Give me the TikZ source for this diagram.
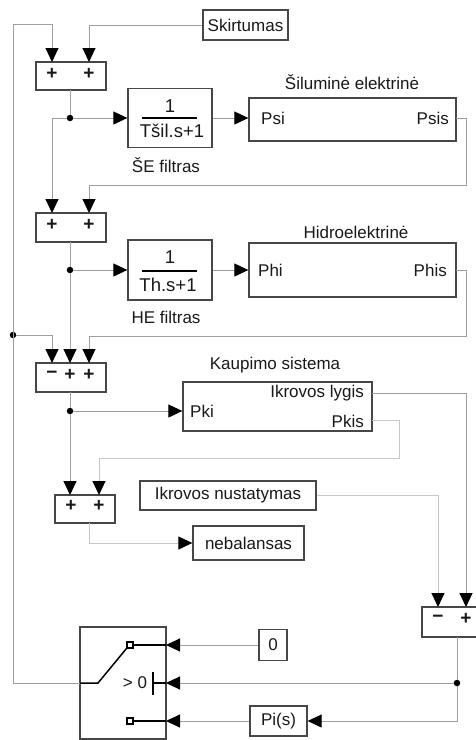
\documentclass[tikz,border=0pt]{standalone}
\usepackage{fontspec}
\setmainfont{Liberation Sans}
\usetikzlibrary{arrows.meta,calc}
\begin{document}
\begin{tikzpicture}[x=1pt,y=-1pt,
  every node/.style={font=\fontsize{17}{20}\selectfont,text=black!90},
  blk/.style={draw=black!72,line width=1.3pt,fill=white,inner sep=0pt},
  wire/.style={draw=black!38,line width=1pt},
  lwire/.style={draw=black!22,line width=1pt},
  tip/.style={-{Triangle[length=14pt,width=13pt,color=black]}},
  arr/.style={wire,tip},
  larr/.style={lwire,tip},
  dot/.style={circle,fill=black,inner sep=0pt,minimum size=6.5pt},
  sgn/.style={font=\fontsize{19}{20}\selectfont\bfseries,inner sep=0pt},
  tff/.style={font=\fontsize{18.5}{20}\selectfont},
  swl/.style={draw=black,line width=1.5pt},
  sq/.style={draw=black,fill=white,line width=1.2pt,minimum size=6pt,inner sep=0pt},
  frac/.style={draw=black,line width=1.3pt}]
\useasboundingbox (0,0) rectangle (475,740);

% blocks
\node[blk,minimum width=85,minimum height=30] (skirt) at (245.5,25) {Skirtumas};
\node[blk,minimum width=70,minimum height=28] (sum1) at (71,76) {};
\node[blk,minimum width=84,minimum height=59] (tf1) at (170,118) {};
\node[blk,minimum width=207,minimum height=43] (sil) at (352.5,119.5) {};
\node[blk,minimum width=70,minimum height=29] (sum2) at (71,227.5) {};
\node[blk,minimum width=84,minimum height=60] (tf2) at (170,270) {};
\node[blk,minimum width=207,minimum height=54] (hid) at (352.5,270) {};
\node[blk,minimum width=70,minimum height=29] (sum3) at (71,377.5) {};
\node[blk,minimum width=189,minimum height=49] (kaup) at (277.5,406.5) {};
\node[blk,minimum width=60,minimum height=28] (sum4) at (85,509) {};
\node[blk,minimum width=176,minimum height=29] (ikn) at (228,495.5) {Ikrovos nustatymas};
\node[blk,minimum width=111,minimum height=34] (neb) at (248.5,543) {nebalansas};
\node[blk,minimum width=70,minimum height=30] (sum5) at (457,622) {};
\node[blk,minimum width=28,minimum height=31] (zero) at (273,645) {0};
\node[blk,minimum width=57,minimum height=30] (pis) at (278.5,721) {Pi(s)};
\node[blk,minimum width=86,minimum height=112] (sw) at (123,683) {};

% labels
\node (silt) at (352,82) {Šiluminė elektrinė};
\node (sef) at (166,165) {ŠE filtras};
\node (hidt) at (356,232) {Hidroelektrinė};
\node (hef) at (166,317) {HE filtras};
\node (kaupt) at (275,365) {Kaupimo sistema};
\node[anchor=west,inner sep=0pt] (psil) at (261,118) {Psi};
\node[anchor=east,inner sep=0pt] (psisl) at (449,118) {Psis};
\node[anchor=west,inner sep=0pt] (phil) at (258,270) {Phi};
\node[anchor=east,inner sep=0pt] (phisl) at (447,270) {Phis};
\node[anchor=west,inner sep=0pt] (pkil) at (190,411) {Pki};
\node[anchor=east,inner sep=0pt] (ikll) at (364,393) {Ikrovos lygis};
\node[anchor=east,inner sep=0pt] (pkisl) at (364,421) {Pkis};

% transfer functions
\node[tff] (n1) at (170,106) {1};
\draw[frac] (142,118) -- (197,118);
\node[tff] (d1) at (172,131) {Tšil.s+1};
\node[tff] (n2) at (170,257) {1};
\draw[frac] (142,271) -- (197,271);
\node[tff] (d2) at (168,285) {Th.s+1};

% signs
\node[sgn] at (52,74) {+};
\node[sgn] at (89,74) {+};
\node[sgn] at (52,225) {+};
\node[sgn] at (89,225) {+};
\node[sgn] at (52,375) {−};
\node[sgn] at (70,375) {+};
\node[sgn] at (89,375) {+};
\node[sgn] at (71,506) {+};
\node[sgn] at (99,506) {+};
\node[sgn] at (438,619) {−};
\node[sgn] at (466,619) {+};

% ports
\coordinate (s1a) at (52,62); \coordinate (s1b) at (89,62); \coordinate (s1o) at (70,90);
\coordinate (s2a) at (52,213); \coordinate (s2b) at (89,213); \coordinate (s2o) at (70,242);
\coordinate (s3a) at (52,363); \coordinate (s3b) at (70,363); \coordinate (s3c) at (89,363); \coordinate (s3o) at (70,392);
\coordinate (s4a) at (70,495); \coordinate (s4b) at (99,495); \coordinate (s4o) at (89,523);
\coordinate (s5a) at (438,607); \coordinate (s5b) at (466,607); \coordinate (s5o) at (457,637);
\coordinate (psis) at (456,118); \coordinate (phis) at (456,270);
\coordinate (ikl) at (372,393); \coordinate (pkis) at (372,420);
\coordinate (swi1) at (166,645); \coordinate (swi2) at (166,683); \coordinate (swi3) at (166,721);
\coordinate (swo) at (80,683);

% junctions
\node[dot] (j1) at (70,118) {};
\node[dot] (j2) at (70,270) {};
\node[dot] (j3) at (70,411) {};
\node[dot] (jl) at (13,335) {};
\node[dot] (j5) at (457,683) {};

% connectors
\draw[arr] (swo) -| (13,24) -| (s1a);
\draw[arr] (jl) -| (s3a);
\draw[arr] (skirt.west) -| (s1b);
\draw[wire] (s1o) -- (j1);
\draw[arr] (j1) -- (tf1.west);
\draw[arr] (j1) -| (s2a);
\draw[arr] (tf1.east) -- (tf1.east -| sil.west);
\draw[arr] (psis) -- (466,118) |- (89,185) -- (s2b);
\draw[wire] (s2o) -- (j2);
\draw[arr] (j2) -- (tf2.west);
\draw[arr] (j2) -- (s3b);
\draw[arr] (tf2.east) -- (hid.west);
\draw[arr] (phis) -- (466,270) |- (89,336) -- (s3c);
\draw[wire] (s3o) -- (j3);
\draw[arr] (j3) -- (j3 -| kaup.west);
\draw[arr] (j3) -- (s4a);
\draw[larr] (pkis) -- (399,420) |- (99,458) -- (s4b);
\draw[larr] (s4o) |- (neb.west);
\draw[arr] (ikl) -| (s5b);
\draw[larr] (ikn.east) -| (s5a);
\draw[wire] (s5o) -- (j5);
\draw[arr] (j5) -- (swi2);
\draw[arr] (j5) |- (pis.east);
\draw[arr] (pis.west) -- (swi3);
\draw[arr] (zero.west) -- (swi1);

% switch internals
\draw[swl] (swi1) -- (133,645);
\node[sq] (sqa) at (130,645) {};
\draw[swl] (swo) -- (98,683) -- (sqa.south west);
\node (gt) at (135,683) {> 0};
\draw[swl] (153,672) -- (153,695);
\draw[swl] (153,683) -- (swi2);
\draw[swl] (swi3) -- (133,721);
\node[sq] (sqb) at (130,721) {};
\end{tikzpicture}
\end{document}
